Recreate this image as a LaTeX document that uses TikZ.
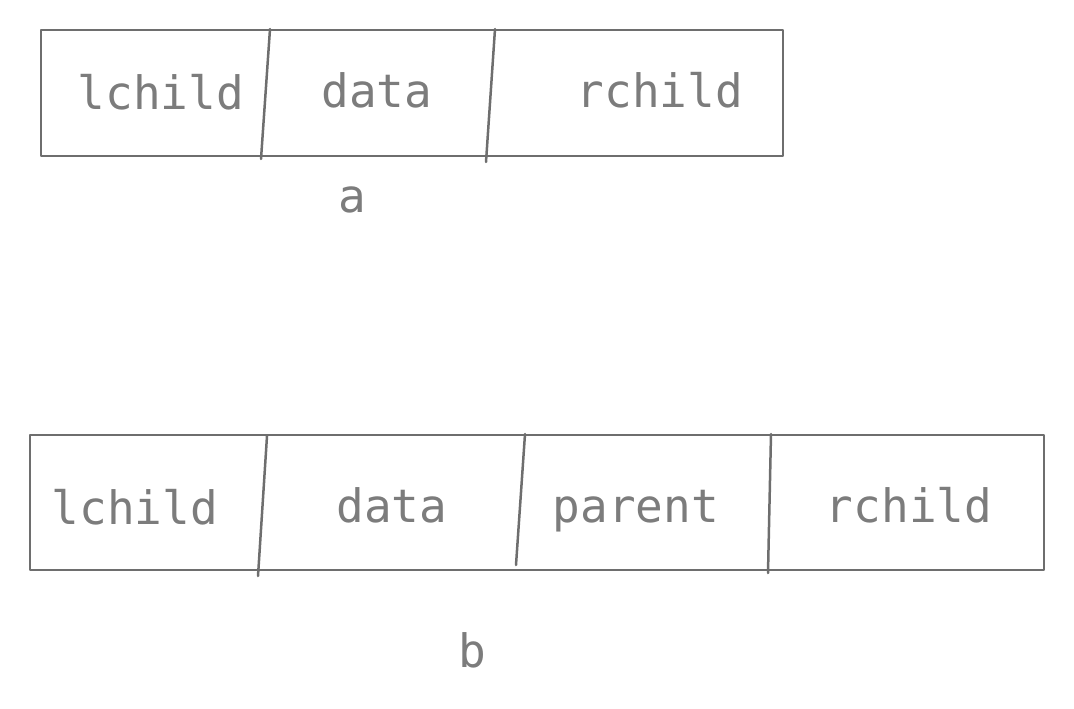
\documentclass[tikz,border=0pt]{standalone}
\usepackage{fontspec}
\setmonofont{DejaVu Sans Mono}
\definecolor{linegray}{HTML}{6E6E6E}
\definecolor{textgray}{HTML}{7C7C7C}
\begin{document}
\begin{tikzpicture}[x=1pt,y=-1pt,
  cell/.style={draw=none,inner sep=0pt,anchor=base,text=textgray,font=\ttfamily\fontsize{46}{50}\selectfont},
  boxline/.style={draw=linegray,line width=2.5pt,line join=round},
  divider/.style={draw=linegray,line width=2.5pt,line cap=round}]
\useasboundingbox (0,0) rectangle (1074,709);
% structure a
\coordinate (a1) at (41,30);
\coordinate (a2) at (783,156);
\draw[boxline] (a1) rectangle (a2);
\coordinate (ad1t) at (270,29); \coordinate (ad1b) at (261,159);
\coordinate (ad2t) at (495,29); \coordinate (ad2b) at (486,162);
\draw[divider] (ad1t) -- (ad1b);
\draw[divider] (ad2t) -- (ad2b);
\node[cell] (alc) at (161,110) {lchild};
\node[cell] (ada) at (377,107) {data};
\node[cell] (arc) at (660,107) {rchild};
\node[cell] (alab) at (352,212) {a};
% structure b
\coordinate (b1) at (30,435);
\coordinate (b2) at (1044,570);
\draw[boxline] (b1) rectangle (b2);
\coordinate (bd1t) at (267,436); \coordinate (bd1b) at (258,576);
\coordinate (bd2t) at (525,434); \coordinate (bd2b) at (516,565);
\coordinate (bd3t) at (771,434); \coordinate (bd3b) at (768,573);
\draw[divider] (bd1t) -- (bd1b);
\draw[divider] (bd2t) -- (bd2b);
\draw[divider] (bd3t) -- (bd3b);
\node[cell] (blc) at (135,524) {lchild};
\node[cell] (bda) at (392,522) {data};
\node[cell] (bpa) at (636,522) {parent};
\node[cell] (brc) at (909,522) {rchild};
\node[cell] (blab) at (472,667) {b};
\end{tikzpicture}
\end{document}
